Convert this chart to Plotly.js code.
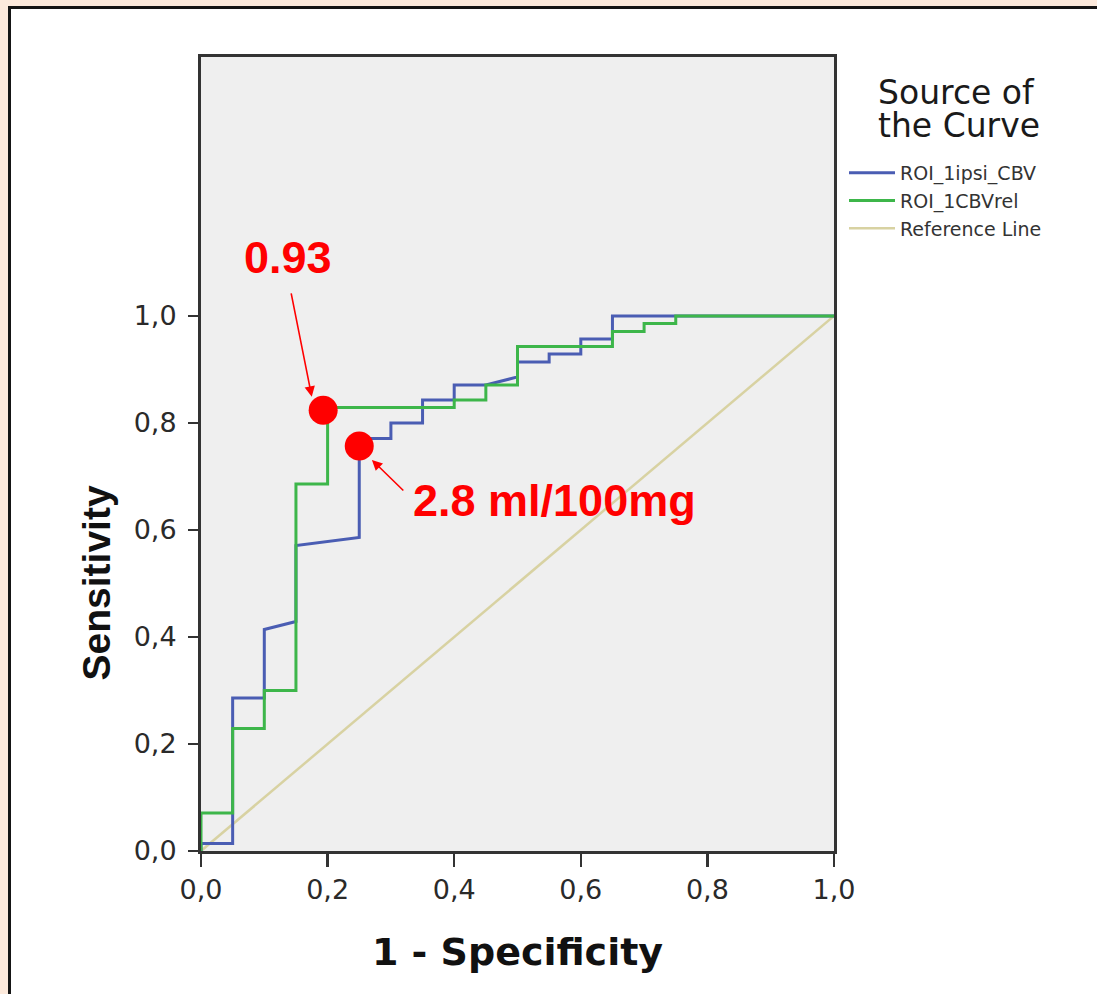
<!DOCTYPE html>
<html>
<head>
<meta charset="utf-8">
<script src="https://cdn.plot.ly/plotly-3.0.1.min.js"></script>
<style>
  html, body { margin: 0; padding: 0; background: #fdeadc; width: 1097px; height: 994px; overflow: hidden; }
  #panel { position: absolute; left: 8px; top: 6px; width: 1200px; height: 1100px; background: #ffffff;
           border-left: 3px solid #151515; border-top: 3px solid #151515; }
  #chart { position: absolute; left: 0; top: 0; width: 1097px; height: 994px; }
</style>
</head>
<body>
<div id="panel"></div>
<div id="chart"></div>
<script>
// ---- data ----
const seriesNames = ["ROI_1ipsi_CBV", "ROI_1CBVrel", "Reference Line"];

const ipsiFPR = [0, 0, 0.05, 0.05, 0.10, 0.10, 0.15, 0.15, 0.25, 0.25, 0.30, 0.30, 0.35, 0.35, 0.40, 0.40, 0.45, 0.50, 0.50, 0.55, 0.55, 0.60, 0.60, 0.65, 0.65, 1.0];
const ipsiTPR = [0, 0.014, 0.014, 0.286, 0.286, 0.414, 0.429, 0.571, 0.586, 0.771, 0.771, 0.800, 0.800, 0.843, 0.843, 0.871, 0.871, 0.886, 0.914, 0.914, 0.929, 0.929, 0.957, 0.957, 1.0, 1.0];

const relFPR = [0, 0, 0.05, 0.05, 0.10, 0.10, 0.15, 0.15, 0.20, 0.20, 0.40, 0.40, 0.45, 0.45, 0.50, 0.50, 0.65, 0.65, 0.70, 0.70, 0.75, 0.75, 1.0];
const relTPR = [0, 0.071, 0.071, 0.229, 0.229, 0.300, 0.300, 0.686, 0.686, 0.829, 0.829, 0.843, 0.843, 0.871, 0.871, 0.943, 0.943, 0.971, 0.971, 0.986, 0.986, 1.0, 1.0];

const refX = [0, 1];
const refY = [0, 1];

const cutX = [0.193, 0.25];
const cutY = [0.824, 0.757];
const cutLabels = ["0.93", "2.8 ml/100mg"];
const labelX = [0.137, 0.558];
const labelY = [1.110, 0.656];
// arrow tips and tails (data units)
const arrowTipX = [0.175, 0.270];
const arrowTipY = [0.849, 0.731];
const arrowTailX = [0.142, 0.322];
const arrowTailY = [1.045, 0.671];

const tickVals = [0, 0.2, 0.4, 0.6, 0.8, 1.0];
const tickText = ["0,0", "0,2", "0,4", "0,6", "0,8", "1,0"];

const xTitle = "1 - Specificity";
const yTitle = "Sensitivity";
const legendTitleLines = ["Source of", "the Curve"];

// ---- traces ----
const traces = [
  { x: refX, y: refY, mode: "lines", name: seriesNames[2], legendrank: 3,
    line: { color: "#d8d2a2", width: 2.5 }, hoverinfo: "skip" },
  { x: ipsiFPR, y: ipsiTPR, mode: "lines", name: seriesNames[0], legendrank: 1,
    line: { color: "#4a5db3", width: 3 } },
  { x: relFPR, y: relTPR, mode: "lines", name: seriesNames[1], legendrank: 2,
    line: { color: "#3db64a", width: 3 } },
  { x: cutX, y: cutY, mode: "markers", showlegend: false,
    marker: { color: "#ff0000", size: 29 } }
];

const annFont = { family: "Liberation Sans, Arial, sans-serif", size: 45, color: "#ff0000" };

const annotations = [
  { x: labelX[0], y: labelY[0], xref: "x", yref: "y", text: "<b>" + cutLabels[0] + "</b>",
    showarrow: false, font: annFont },
  { x: labelX[1], y: labelY[1], xref: "x", yref: "y", text: "<b>" + cutLabels[1] + "</b>",
    showarrow: false, font: annFont }
];
for (let i = 0; i < arrowTipX.length; i++) {
  annotations.push({
    x: arrowTipX[i], y: arrowTipY[i], xref: "x", yref: "y",
    ax: arrowTailX[i], ay: arrowTailY[i], axref: "x", ayref: "y",
    text: "", showarrow: true, arrowhead: 2, arrowsize: 1.3, arrowwidth: 1.6,
    arrowcolor: "#ff0000"
  });
}
const plotTop = 57, plotBottom = 851, plotLeft = 201, plotRight = 834;
const pxToPaperX = px => (px - plotLeft) / (plotRight - plotLeft);
const pxToPaperY = py => (plotBottom - py) / (plotBottom - plotTop);
annotations.push(
  { x: pxToPaperX(96), y: 0.5, xref: "paper", yref: "y", xanchor: "center", yanchor: "middle",
    text: "<b>" + yTitle + "</b>", textangle: -90,
    showarrow: false, font: { family: "Liberation Sans, Arial, sans-serif", size: 39, color: "#111" } },
  { x: pxToPaperX(876), y: pxToPaperY(92), xref: "paper", yref: "paper", xanchor: "left", yanchor: "middle",
    text: legendTitleLines[0], showarrow: false,
    font: { family: "DejaVu Sans, sans-serif", size: 33, color: "#1a1a1a" } },
  { x: pxToPaperX(876), y: pxToPaperY(125), xref: "paper", yref: "paper", xanchor: "left", yanchor: "middle",
    text: legendTitleLines[1], showarrow: false,
    font: { family: "DejaVu Sans, sans-serif", size: 33, color: "#1a1a1a" } }
);

const axisCommon = {
  showgrid: false, zeroline: false,
  showline: true, linecolor: "#333", linewidth: 3, mirror: true,
  ticks: "outside", tickcolor: "#333", tickwidth: 2.5,
  tickvals: tickVals, ticktext: tickText,
  tickfont: { family: "DejaVu Sans, sans-serif", size: 27, color: "#2a2a2a" }
};

const layout = {
  width: 1097, height: 994,
  margin: { l: plotLeft, r: 1097 - plotRight, t: plotTop, b: 994 - plotBottom, pad: 0 },
  paper_bgcolor: "rgba(0,0,0,0)",
  plot_bgcolor: "#efefef",
  showlegend: true,
  legend: {
    x: pxToPaperX(844), xanchor: "left",
    y: pxToPaperY(154), yanchor: "top",
    bgcolor: "rgba(0,0,0,0)", borderwidth: 0,
    itemwidth: 46, tracegroupgap: 0,
    font: { family: "DejaVu Sans, sans-serif", size: 19, color: "#333" }
  },
  xaxis: Object.assign({}, axisCommon, {
    range: [0, 1], ticklen: 13,
    title: { text: "<b>" + xTitle + "</b>", standoff: 34,
             font: { family: "DejaVu Sans, sans-serif", size: 38, color: "#111" } }
  }),
  yaxis: Object.assign({}, axisCommon, {
    range: [0, 1.484], ticklen: 10, ticklabelstandoff: 6
  }),
  annotations: annotations
};

Plotly.newPlot("chart", traces, layout, { staticPlot: true, displayModeBar: false });
</script>
</body>
</html>
